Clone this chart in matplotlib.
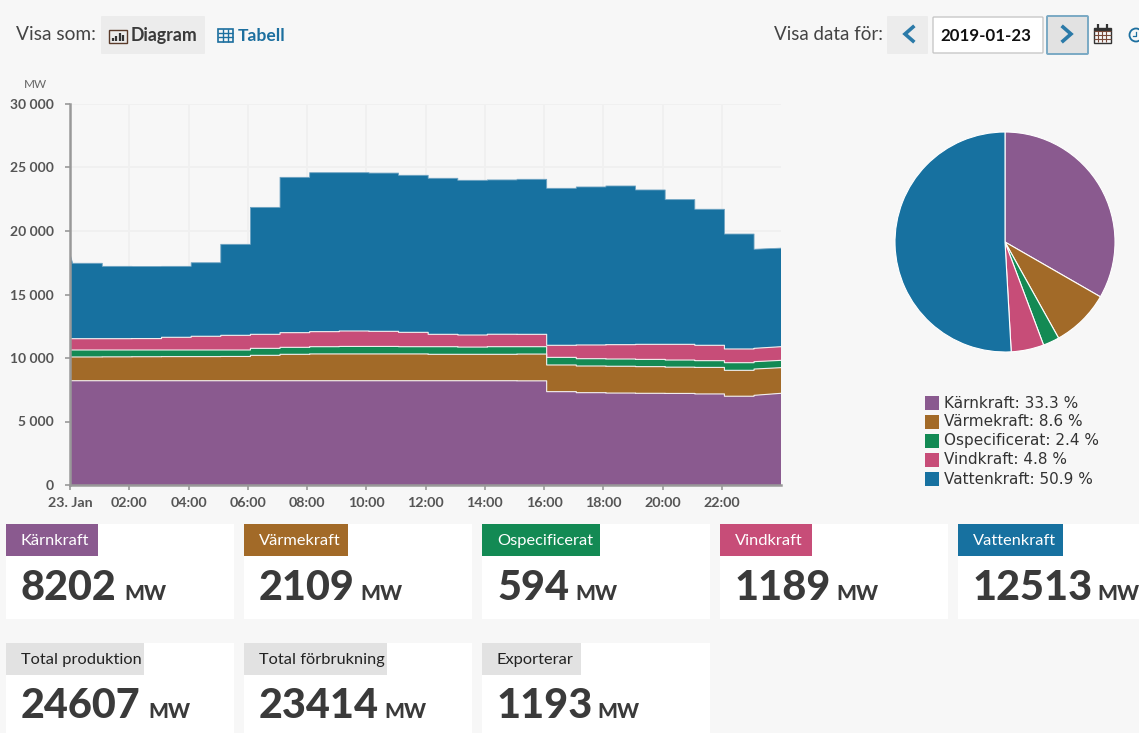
import numpy as np
import matplotlib
matplotlib.use('Agg')
import matplotlib.pyplot as plt
from matplotlib.patches import Rectangle, FancyBboxPatch, Circle

# Values per series: first = at 00:00, then one per hour (each step starts just after the hour), last = at 24:00
karnkraft = [8210, 8210, 8210, 8210, 8210, 8210, 8210, 8210, 8210, 8210, 8210, 8210, 8210,
             8210, 8210, 8210, 8200, 7350, 7270, 7240, 7220, 7210, 7170, 6990, 7060, 7220]
varmekraft = [1870, 1870, 1880, 1890, 1900, 1900, 1910, 2000, 2080, 2110, 2110, 2110, 2110,
              2080, 2080, 2080, 2110, 2100, 2100, 2110, 2100, 2070, 2090, 2040, 2070, 2020]
ospecificerat = [550, 550, 540, 530, 520, 520, 510, 550, 550, 570, 590, 590, 570,
                 600, 570, 600, 580, 600, 575, 570, 570, 560, 530, 600, 580, 575]
vindkraft = [890, 890, 890, 900, 1000, 1080, 1155, 1104, 1155, 1185, 1216, 1190, 1130,
             974, 950, 980, 974, 950, 1080, 1130, 1186, 1236, 1210, 1080, 1050, 1075]
vattenkraft = [6680, 5937, 5696, 5670, 5586, 5790, 7165, 9996, 12230, 12515, 12464, 12460, 12365,
               12286, 12180, 12150, 12206, 12360, 12441, 12494, 12154, 11394, 10710, 9050, 7800, 7760]

names = ['Kärnkraft', 'Värmekraft', 'Ospecificerat', 'Vindkraft', 'Vattenkraft']
colors = ['#8a5a8f', '#a26a28', '#138a54', '#c74d78', '#1771a0']
shares = [33.3, 8.6, 2.4, 4.8, 50.9]
current = [8202, 2109, 594, 1189, 12513]
total_names = ['Total produktion', 'Total förbrukning', 'Exporterar']
total_values = [24607, 23414, 1193]

y_ticks = [0, 5000, 10000, 15000, 20000, 25000, 30000]
x_ticks = [0, 2, 4, 6, 8, 10, 12, 14, 16, 18, 20, 22]
x_labels = ['23. Jan', '02:00', '04:00', '06:00', '08:00', '10:00', '12:00',
            '14:00', '16:00', '18:00', '20:00', '22:00']

BG = '#f7f7f7'
W, H = 1139, 733
TEXT = '#3a3a3a'
BLUE = '#1c6f9f'

plt.rcParams['font.family'] = ['Lato', 'DejaVu Sans']

fig = plt.figure(figsize=(W / 100, H / 100), dpi=100, facecolor=BG)


def px_axes(left, top, right, bottom, **kw):
    return fig.add_axes([left / W, 1 - bottom / H, (right - left) / W, (bottom - top) / H], **kw)


# page layer in pixel coordinates
ui = px_axes(0, 0, W, H)
ui.set_xlim(0, W)
ui.set_ylim(H, 0)
ui.axis('off')


def box(x0, y0, x1, y1, color, **kw):
    ui.add_patch(Rectangle((x0, y0), x1 - x0, y1 - y0, facecolor=color, edgecolor='none', **kw))


def rbox(x0, y0, x1, y1, color, edge='none', lw=0):
    ui.add_patch(FancyBboxPatch((x0 + 1, y0 + 1), x1 - x0 - 2, y1 - y0 - 2, boxstyle='round,pad=1',
                                facecolor=color, edgecolor=edge, linewidth=lw))


def card(x, y, width, height, label, label_w, label_bg, label_fg, value, unit_x):
    box(x, y, min(x + width, W), y + height, 'white')
    box(x, y, x + label_w, y + 32, label_bg)
    ui.text(x + 15, y + 21, label, color=label_fg, fontsize=11.8, va='baseline')
    ui.text(x + 15, y + 75.5, str(value), color=TEXT, fontsize=29.8, fontweight='black', va='baseline')
    ui.text(unit_x, y + 75.5, 'MW', color=TEXT, fontsize=15, fontweight='black', va='baseline')


# toolbar
ui.text(16, 40, 'Visa som:', fontsize=13.8, color='#444444', va='baseline')
rbox(101, 16, 205, 54, '#ececec')
ui.add_patch(Rectangle((109, 30), 18, 13, facecolor='none', edgecolor='#5a3a2a', linewidth=1))
ui.vlines([112.5, 116, 119.5, 123], [38, 36, 33, 35], [41, 41, 41, 41], color='#333333', linewidth=1.6)
ui.text(131, 41, 'Diagram', fontsize=12.8, fontweight='bold', color=TEXT, va='baseline')
ui.add_patch(Rectangle((217.5, 28.5), 15, 13, facecolor='none', edgecolor=BLUE, linewidth=1.2))
ui.hlines([32.5, 37], 217.5, 232.5, color=BLUE, linewidth=1)
ui.vlines([222.5, 227.5], 28.5, 41.5, color=BLUE, linewidth=1)
ui.text(238, 41, 'Tabell', fontsize=12.6, fontweight='bold', color=BLUE, va='baseline')

ui.text(774, 40, 'Visa data för:', fontsize=13.5, color='#444444', va='baseline')
rbox(887, 16, 928, 54, '#ececec')
ui.plot([913, 905, 913], [27, 34, 41], color='#2b7aa8', linewidth=2.6, solid_joinstyle='miter')
rbox(933, 17, 1043, 53, 'white', edge='#c8c8c8', lw=1)
ui.text(985.5, 41, '2019-01-23', fontsize=12.2, color='#111111', ha='center', va='baseline', fontweight='bold')
rbox(1047, 16, 1088, 54, '#e2e2e2', edge='#7aa9c4', lw=1.4)
ui.plot([1063, 1071, 1063], [27, 34, 41], color='#2b7aa8', linewidth=2.6, solid_joinstyle='miter')
# calendar icon
ui.add_patch(Rectangle((1093.5, 27.5), 17, 15, facecolor='none', edgecolor='#333333', linewidth=1))
ui.hlines([31, 35, 39], 1093.5, 1110.5, color='#7a4a3a', linewidth=0.8)
ui.vlines([1098, 1102, 1106], 31, 42, color='#7a4a3a', linewidth=0.8)
ui.add_patch(Rectangle((1093.5, 27.5), 17, 3.5, facecolor='#333333', edgecolor='none'))
ui.vlines([1097.5, 1106.5], 24, 28, color='#333333', linewidth=1.6)
# clock icon, cut off by the page edge
ui.add_patch(Circle((1136, 35), 6.5, facecolor='none', edgecolor=BLUE, linewidth=1.3))
ui.plot([1136, 1136, 1132.5], [32, 35.5, 35.5], color=BLUE, linewidth=0.9)

ui.text(35, 84.5, 'MW', fontsize=8.5, color='#666666', ha='center', va='center')

# cards, unit positions leave room for Lato's wide digit 1
card_x = [6, 244, 482, 720, 958]
label_w = [92, 104, 118, 92, 105]
unit_x = [124, 360, 575, 836, 1097]
for x, w, name, col, val, ux in zip(card_x, label_w, names, colors, current, unit_x):
    card(x, 524, 228, 95, name, w, col, 'white', val, ux)
total_w = [138, 143, 99]
total_unit_x = [148, 384, 597]
for x, w, name, val, ux in zip(card_x, total_w, total_names, total_values, total_unit_x):
    card(x, 643, 228, 95, name, w, '#e2e2e2', '#222222', val, ux)

# area chart
hours = np.arange(24)
step_x = np.concatenate([[0], np.column_stack([hours + 0.09, hours + 1.09]).ravel()])
step_x[-1] = 24


def steps(values):
    # each hourly value is held flat until the next step
    v = np.asarray(values, dtype=float)
    held = np.repeat(v[1:-1], 2)
    held[-1] = v[-1]
    return np.concatenate([[v[0]], held])


ax = px_axes(70, 104, 781, 485, facecolor='none')
series = [steps(s) for s in (karnkraft, varmekraft, ospecificerat, vindkraft, vattenkraft)]
ax.stackplot(step_x, series, colors=colors, linewidth=0, zorder=3)
tops = np.cumsum(series, axis=0)
for top in tops[:-1]:
    ax.plot(step_x, top, color='#f2eeee', linewidth=0.8, zorder=4)
ax.plot(step_x, tops[-1], color='#6ea3c2', linewidth=0.6, zorder=4)
ax.set_xlim(0, 24)
ax.set_ylim(0, 30000)
ax.set_yticks(y_ticks)
ax.set_yticklabels([f'{v:,}'.replace(',', ' ') for v in y_ticks], fontsize=10, fontweight='bold', color='#555555')
ax.set_xticks(x_ticks)
ax.set_xticklabels(x_labels, fontsize=10.3, fontweight='bold', color='#555555')
ax.grid(True, color='#f0f0f0', linewidth=1.4, zorder=0)
ax.set_axisbelow(True)
ax.tick_params(axis='y', color='#999999', length=3.5, width=1.2, pad=8)
ax.tick_params(axis='x', color='#999999', length=3.5, width=1.2, pad=5)
for side in ('top', 'right'):
    ax.spines[side].set_visible(False)
for side in ('left', 'bottom'):
    ax.spines[side].set_color('#999999')
    ax.spines[side].set_linewidth(1.8)
    ax.spines[side].set_zorder(5)

# pie
pie_ax = px_axes(895, 132, 1115, 352)
pie_ax.pie(shares, colors=colors, startangle=90, counterclock=False, radius=1,
           wedgeprops={'edgecolor': 'white', 'linewidth': 0.8})
pie_ax.set_xlim(-1, 1)
pie_ax.set_ylim(-1, 1)

# pie legend
for i, (name, col, share) in enumerate(zip(names, colors, shares)):
    y = 403 + i * 19
    box(925, y - 7, 939, y + 7, col)
    ui.text(944, y, f'{name}: {share} %', fontsize=11, color='#333333', va='center', family='DejaVu Sans')

fig.savefig('out.png', dpi=100, facecolor=BG)
